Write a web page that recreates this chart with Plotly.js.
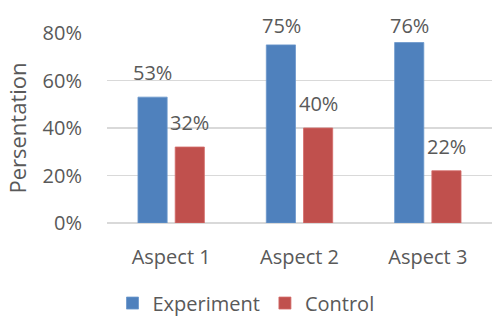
<!DOCTYPE html>
<html><head><meta charset="utf-8">
<script src="https://cdn.plot.ly/plotly-3.0.1.min.js"></script>
<style>html,body{margin:0;padding:0;background:#fff}#chart{width:492px;height:317px}</style>
</head><body><div id="chart"></div>
<script>
const categories = ['Aspect 1', 'Aspect 2', 'Aspect 3'];
const experiment = [0.53, 0.75, 0.76];
const control = [0.32, 0.40, 0.22];
const seriesNames = ['Experiment', 'Control'];
const labelCap = 0.73; // labels near the top are kept inside the plot area, as in the source

const font = {family: 'Open Sans, sans-serif', size: 20, color: '#595959'};

const traces = [
  {type: 'bar', name: seriesNames[0], x: categories, y: experiment,
   marker: {color: '#4F81BD', line: {color: '#6b97cc', width: 0.8}}},
  {type: 'bar', name: seriesNames[1], x: categories, y: control,
   marker: {color: '#C0504D', line: {color: '#d46c69', width: 0.8}}}
];

const annotations = [];
[experiment, control].forEach((vals, si) => {
  vals.forEach((v, i) => {
    annotations.push({x: categories[i], y: Math.min(v, labelCap), xref: 'x', yref: 'y',
      text: Math.round(v * 100) + '%', showarrow: false,
      xanchor: 'center', yanchor: 'bottom', yshift: 9,
      xshift: si === 0 ? -18.5 : 18.5, font: font});
  });
});

const layout = {
  width: 492, height: 317,
  margin: {l: 107, r: 0, t: 33, b: 94, autoexpand: false},
  paper_bgcolor: '#fff', plot_bgcolor: '#fff',
  font: font,
  barmode: 'group', bargap: 0.42, bargroupgap: 0.216,
  showlegend: true,
  legend: {orientation: 'h', x: 0.5, xanchor: 'center', xref: 'container',
           y: 0.044, yanchor: 'middle', yref: 'container',
           font: font, itemwidth: 30, traceorder: 'normal'},
  xaxis: {type: 'category', showgrid: false, zeroline: false, showline: false,
          ticks: 'outside', ticklen: 16, tickcolor: 'rgba(0,0,0,0)', tickfont: font},
  yaxis: {range: [0, 0.8], dtick: 0.2, tickformat: '.0%', showgrid: true,
          gridcolor: '#d9d9d9', gridwidth: 1.5, zeroline: true, zerolinecolor: '#d9d9d9',
          zerolinewidth: 1.5, showline: false,
          ticks: 'outside', ticklen: 20, tickcolor: 'rgba(0,0,0,0)', tickfont: font,
          title: {text: 'Persentation', font: {family: font.family, size: 22, color: font.color}, standoff: 9}},
  annotations: annotations
};

Plotly.newPlot('chart', traces, layout, {displayModeBar: false, staticPlot: true});
</script></body></html>
